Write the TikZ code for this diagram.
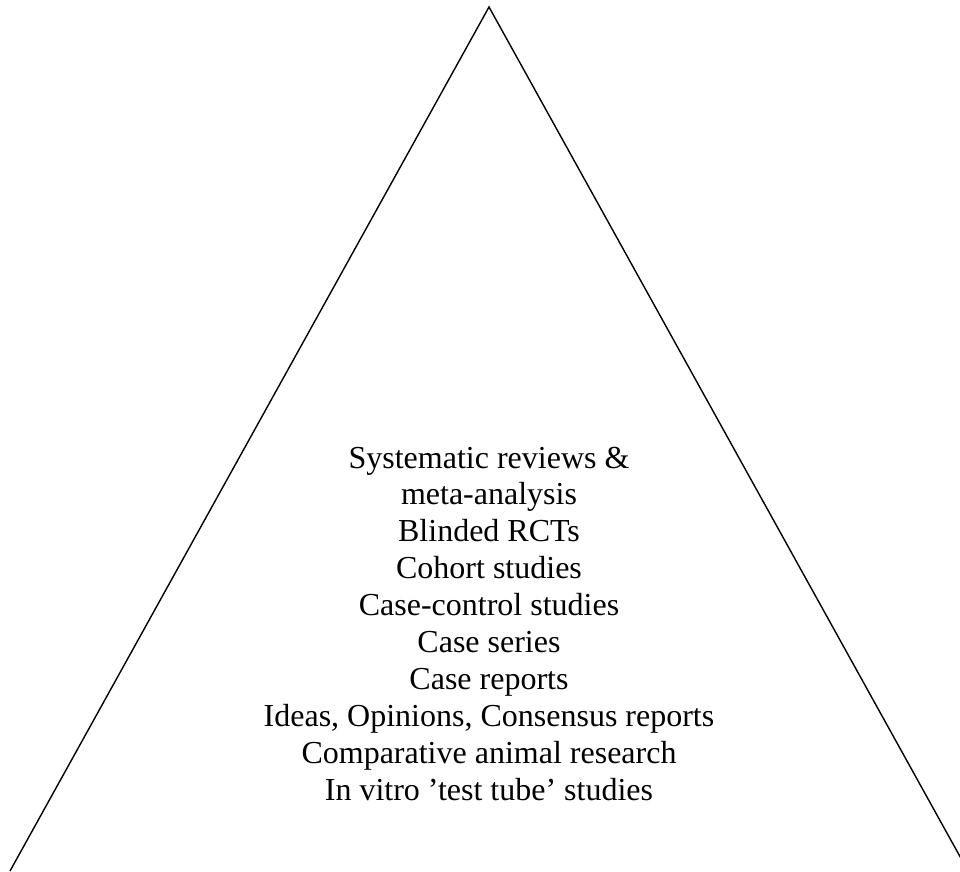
\documentclass[tikz,border=0pt]{standalone}
\usepackage{fontspec}
\setmainfont{Liberation Serif}
\begin{document}
\begin{tikzpicture}[x=1pt,y=-1pt,
  lbl/.style={anchor=base,inner sep=0pt,font=\fontsize{32}{37}\selectfont},
  side/.style={draw=black,line width=1.4pt,line join=miter}]
\useasboundingbox (0,0) rectangle (960,871);
\clip (0,0) rectangle (960,871);
\coordinate (bl) at (10,871);
\coordinate (apex) at (489,7);
\coordinate (br) at (968,871);
\draw[side] (bl) -- (apex) -- (br);
\foreach \t [count=\i] in {{Systematic reviews \&},{meta-analysis},{Blinded RCTs},{Cohort studies},{Case-control studies},{Case series},{Case reports},{Ideas, Opinions, Consensus reports},{Comparative animal research},{In vitro ’test tube’ studies}}
  \node[lbl] (l\i) at (489,{468+(\i-1)*36.9}) {\t};
\end{tikzpicture}
\end{document}
